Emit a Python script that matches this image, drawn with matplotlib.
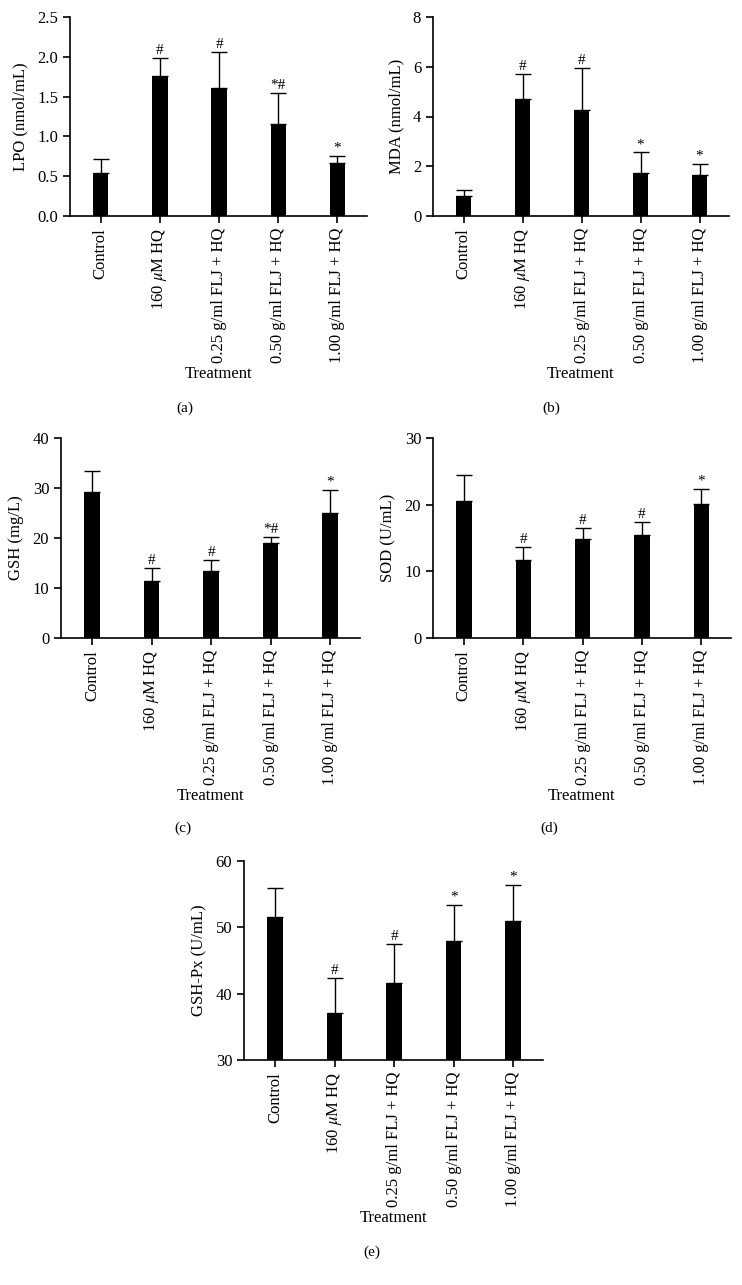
import matplotlib
matplotlib.use("Agg")
from matplotlib import pyplot as plt

plt.rcParams["font.family"] = ["Liberation Serif", "DejaVu Serif"]
plt.rcParams["mathtext.fontset"] = "stix"
plt.rcParams["font.size"] = 12

groups = ["Control", "160 $\\mu$M HQ", "0.25 g/ml FLJ + HQ",
          "0.50 g/ml FLJ + HQ", "1.00 g/ml FLJ + HQ"]

lpo = [0.54, 1.76, 1.61, 1.16, 0.67]
lpo_err = [0.18, 0.23, 0.45, 0.39, 0.09]
lpo_sig = ["", "#", "#", "*#", "*"]

mda = [0.80, 4.72, 4.25, 1.74, 1.63]
mda_err = [0.26, 0.97, 1.70, 0.83, 0.46]
mda_sig = ["", "#", "#", "*", "*"]

gsh = [29.2, 11.4, 13.5, 19.0, 25.1]
gsh_err = [4.2, 2.6, 2.2, 1.2, 4.5]
gsh_sig = ["", "#", "#", "*#", "*"]

sod = [20.5, 11.7, 14.8, 15.4, 20.1]
sod_err = [4.0, 1.9, 1.7, 2.0, 2.3]
sod_sig = ["", "#", "#", "#", "*"]

gpx = [51.6, 37.1, 41.6, 48.0, 50.9]
gpx_err = [4.3, 5.3, 5.9, 5.4, 5.5]
gpx_sig = ["", "#", "#", "*", "*"]

W, H = 742, 1285
fig = plt.figure(figsize=(W / 100, H / 100), dpi=100)


def panel(left, top, bottom, width, vals, errs, sigs, ylabel, ylim, yticks, fmt, letter, letter_x, letter_y):
    ax = fig.add_axes([left / W, 1 - bottom / H, width / W, (bottom - top) / H])
    x = list(range(len(vals)))
    ax.bar(x, [v - ylim[0] for v in vals], bottom=ylim[0], width=0.26, color="black")
    ax.errorbar(x, vals, yerr=[[0] * len(vals), errs], fmt="none",
                ecolor="black", elinewidth=1.0, capsize=6, capthick=1.0)
    span = ylim[1] - ylim[0]
    for i in x:
        if sigs[i]:
            ax.text(i, vals[i] + errs[i] + span * 0.005, sigs[i], ha="center",
                    va="bottom", fontsize=11)
    ax.set_xlim(-0.52, 4.5)
    ax.set_ylim(*ylim)
    ax.set_yticks(yticks)
    ax.set_yticklabels([fmt.format(t) for t in yticks])
    ax.set_xticks(x)
    ax.set_xticklabels(groups, rotation=90)
    ax.set_xlabel("Treatment", labelpad=2)
    ax.set_ylabel(ylabel, labelpad=6)
    for s in ["top", "right"]:
        ax.spines[s].set_visible(False)
    for s in ["left", "bottom"]:
        ax.spines[s].set_linewidth(1.2)
    ax.tick_params(direction="out", length=5, width=1.2)
    fig.text(letter_x / W, 1 - letter_y / H, letter, ha="center", va="center", fontsize=11)
    return ax


panel(70, 17, 216, 297, lpo, lpo_err, lpo_sig, "LPO (nmol/mL)", (0, 2.5),
      [0, 0.5, 1.0, 1.5, 2.0, 2.5], "{:.1f}", "(a)", 185, 408)
panel(433, 17, 216, 296, mda, mda_err, mda_sig, "MDA (nmol/mL)", (0, 8),
      [0, 2, 4, 6, 8], "{:.0f}", "(b)", 551, 408)
panel(61, 438, 638, 299, gsh, gsh_err, gsh_sig, "GSH (mg/L)", (0, 40),
      [0, 10, 20, 30, 40], "{:.0f}", "(c)", 183, 828)
panel(433, 438, 638, 298, sod, sod_err, sod_sig, "SOD (U/mL)", (0, 30),
      [0, 10, 20, 30], "{:.0f}", "(d)", 549, 828)
panel(244, 861, 1060, 299, gpx, gpx_err, gpx_sig, "GSH-Px (U/mL)", (30, 60),
      [30, 40, 50, 60], "{:.0f}", "(e)", 372, 1252)

fig.savefig("out.png", dpi=100)
